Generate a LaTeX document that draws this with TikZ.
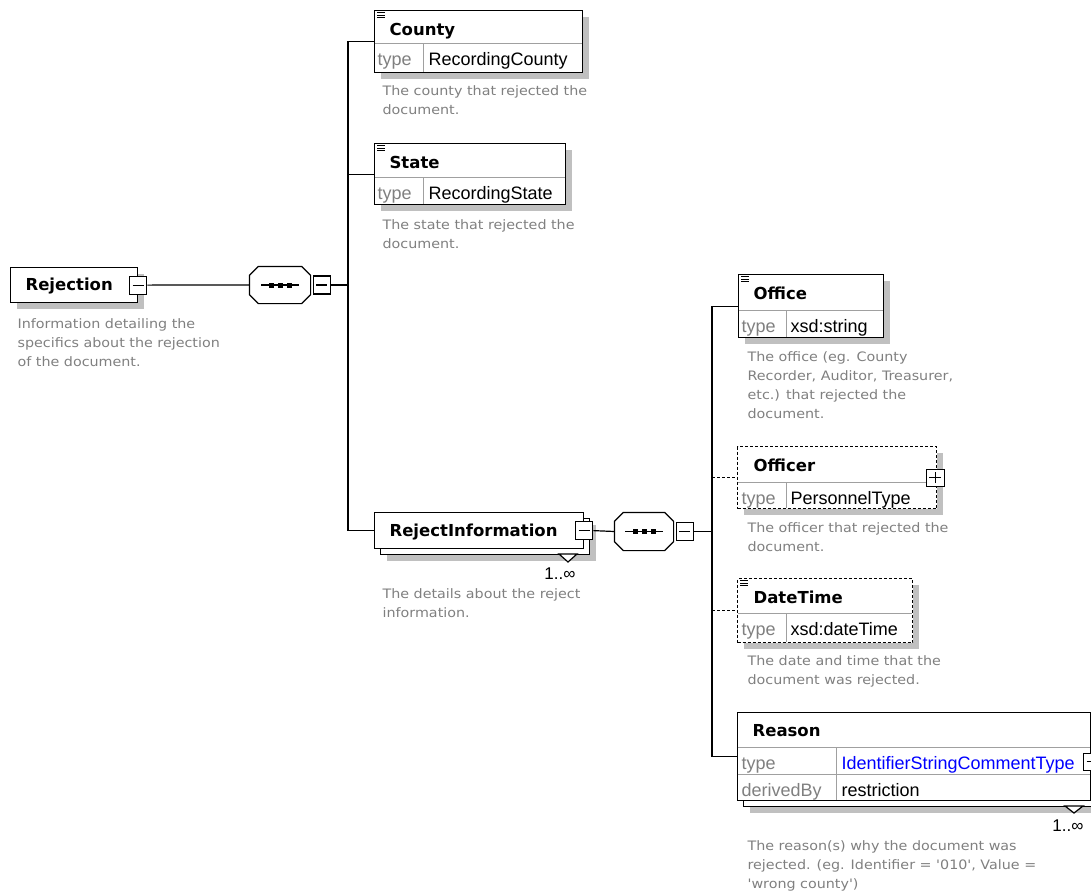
\documentclass[tikz,border=0pt]{standalone}
\usepackage{fontspec}
\setmainfont{DejaVu Sans}
\newfontfamily\descfont{DejaVu Sans}[FakeStretch=1.1]
\newfontfamily\valfont{Liberation Sans}
\definecolor{shadowgray}{RGB}{192,192,192}
\definecolor{desc}{RGB}{128,128,128}
\definecolor{divc}{RGB}{160,160,160}
\definecolor{linkblue}{RGB}{0,0,255}
\newcommand{\octa}[2]{\path[#2] ([xshift=9pt]#1.north west) -- ([xshift=-9pt]#1.north east) -- ([yshift=-9pt]#1.north east) -- ([yshift=9pt]#1.south east) -- ([xshift=-9pt]#1.south east) -- ([xshift=9pt]#1.south west) -- ([yshift=9pt]#1.south west) -- ([yshift=-9pt]#1.north west) -- cycle;}
\newcommand{\seqdots}[1]{\begin{scope}[shift={(#1.center)}]\draw[line width=1.2pt] (-19,0) -- (19,0);\foreach \d in {-9,0,9} {\fill (\d-2.5,-2.5) rectangle (\d+2.5,2.5);}\end{scope}}
\newcommand{\eqicon}[2]{\draw[line width=0.9pt] (#1,#2+2.5) -- ++(8,0) (#1,#2+5) -- ++(8,0) (#1,#2+7.5) -- ++(8,0);}
\begin{document}
\begin{tikzpicture}[x=1pt,y=-1pt,line width=1.2pt,
 elbox/.style={draw=black, fill=white, inner sep=0pt, anchor=north west},
 optbox/.style={elbox, dash pattern=on 3pt off 2pt},
 div/.style={draw=divc, line width=1pt},
 namet/.style={font=\bfseries\fontsize{16.5}{18}\selectfont, anchor=base west, inner sep=0pt},
 typet/.style={font=\valfont\fontsize{18}{20}\selectfont, text=desc, anchor=base west, inner sep=0pt},
 valt/.style={font=\valfont\fontsize{18}{20}\selectfont, anchor=base west, inner sep=0pt},
 desct/.style={font=\descfont\fontsize{13}{19}\selectfont, text=desc, align=left, anchor=north west, inner sep=0pt},
 mult/.style={font=\valfont\fontsize{17}{20}\selectfont, anchor=base east, inner sep=0pt},
 pmbox/.style={draw=black, fill=white, inner sep=0pt, minimum width=17pt, minimum height=18pt},
 minus/.style={pmbox, path picture={\draw[line width=1.2pt] ([xshift=3pt]path picture bounding box.west) -- ([xshift=-3pt]path picture bounding box.east);}},
 plus/.style={pmbox, path picture={\draw[line width=1.2pt] ([xshift=3pt]path picture bounding box.west) -- ([xshift=-3pt]path picture bounding box.east) ([yshift=3pt]path picture bounding box.south) -- ([yshift=-3pt]path picture bounding box.north);}},
 conn/.style={draw=black, line width=1.2pt},
 opt/.style={conn, dash pattern=on 3pt off 2pt},
 seqnode/.style={inner sep=0pt, minimum width=60pt, minimum height=36pt},
]
\useasboundingbox[fill=white] (0,0) rectangle (1091,894);

% ---------- shadows ----------
\fill[shadowgray] (17,274) rectangle (144,309);
\fill[shadowgray] (381,17) rectangle (589,79);
\fill[shadowgray] (381,150) rectangle (572,211);
\fill[shadowgray] (387,525) rectangle (596,561);
\fill[shadowgray] (745,281) rectangle (890,344);
\fill[shadowgray] (744,453) rectangle (943,515);
\fill[shadowgray] (744,585) rectangle (919,649);
\fill[shadowgray] (750,725) rectangle (1103,813);

% ---------- Rejection ----------
\node[elbox, minimum width=127pt, minimum height=35pt] (rejection) at (10,267) {};
\node[namet] at (25,290) {Rejection};
\node[desct] at (17,318) {Information detailing the\\specifics about the rejection\\of the document.};
\node[minus] (rejm) at (rejection.east) {};

% ---------- sequence 1 ----------
\node[seqnode] (seq1) at (280,285) {};
\begin{scope}[shift={(5,5)}]\octa{seq1}{fill=shadowgray}\end{scope}
\octa{seq1}{draw=black, fill=white, line width=1.2pt}
\seqdots{seq1}
\node[minus, anchor=west] (seq1m) at ([xshift=2pt]seq1.east) {};
\coordinate (t1) at (348,285);

% ---------- County ----------
\node[elbox, minimum width=208pt, minimum height=62pt] (county) at (374,10) {};
\draw[div] (374.5,43) -- (581.5,43);
\draw[div] (423,43.5) -- (423,71.5);
\eqicon{377}{10}
\node[namet] at (389,35) {County};
\node[typet] at (377,65) {type};
\node[valt] at (428,65) {RecordingCounty};
\node[desct] at (382,85) {The county that rejected the\\document.};

% ---------- State ----------
\node[elbox, minimum width=191pt, minimum height=61pt] (state) at (374,143) {};
\draw[div] (374.5,177) -- (564.5,177);
\draw[div] (423,177.5) -- (423,203.5);
\eqicon{377}{143}
\node[namet] at (389,168) {State};
\node[typet] at (377,199) {type};
\node[valt] at (428,199) {RecordingState};
\node[desct] at (382,219) {The state that rejected the\\document.};

% ---------- RejectInformation ----------
\node[elbox, minimum width=209pt, minimum height=36pt] (rejback) at (380,518) {};
\node[elbox, minimum width=209pt, minimum height=36pt] (rejinfo) at (374,512) {};
\node[namet] at (389,536) {RejectInformation};
\draw[fill=white] (559,554) -- (577,554) -- (568,562) -- cycle;
\node[minus] (rijm) at (rejinfo.east) {};
\node[mult] at (576,579) {1..∞};
\node[desct] at (382,588) {The details about the reject\\information.};

% ---------- sequence 2 ----------
\node[seqnode, minimum width=58pt, minimum height=37pt] (seq2) at (644,531.5) {};
\begin{scope}[shift={(5,5)}]\octa{seq2}{fill=shadowgray}\end{scope}
\octa{seq2}{draw=black, fill=white, line width=1.2pt}
\seqdots{seq2}
\node[minus, anchor=west] (seq2m) at ([xshift=2pt]seq2.east) {};
\coordinate (t2) at (712,531.5);

% ---------- Office ----------
\node[elbox, minimum width=145pt, minimum height=63pt] (office) at (738,274) {};
\draw[div] (738.5,310) -- (882.5,310);
\draw[div] (786,310.5) -- (786,336.5);
\eqicon{741}{274}
\node[namet] at (753,299) {Office};
\node[typet] at (741,332) {type};
\node[valt] at (790,332) {xsd:string};
\node[desct] at (747,351) {The office (eg. County\\Recorder, Auditor, Treasurer,\\etc.) that rejected the\\document.};

% ---------- Officer ----------
\node[optbox, minimum width=199pt, minimum height=62pt] (officer) at (737,446) {};
\draw[div] (737.5,482) -- (935.5,482);
\draw[div] (786,482.5) -- (786,507.5);
\node[namet] at (753,471) {Officer};
\node[typet] at (741,504) {type};
\node[valt] at (790,504) {PersonnelType};
\node[plus, minimum width=18pt, minimum height=17pt] (officerp) at ([xshift=-2pt]officer.east) {};
\node[desct] at (747,522) {The officer that rejected the\\document.};

% ---------- DateTime ----------
\node[optbox, minimum width=175pt, minimum height=64pt] (datetime) at (737,578) {};
\draw[div] (737.5,613) -- (911.5,613);
\draw[div] (786,613.5) -- (786,641.5);
\eqicon{740}{578}
\node[namet] at (753,603) {DateTime};
\node[typet] at (741,635) {type};
\node[valt] at (790,635) {xsd:dateTime};
\node[desct] at (747,655) {The date and time that the\\document was rejected.};

% ---------- Reason ----------
\node[elbox, minimum width=353pt, minimum height=88pt] (reasonback) at (743,718) {};
\node[elbox, minimum width=353pt, minimum height=88pt] (reason) at (737,712) {};
\draw[div] (737.5,747) -- (1089.5,747);
\draw[div] (737.5,774) -- (1089.5,774);
\draw[div] (836,747.5) -- (836,799.5);
\node[namet] at (752,736) {Reason};
\node[typet] at (741,769) {type};
\node[valt, text=linkblue] at (841,769) {IdentifierStringCommentType};
\node[typet] at (741,796) {derivedBy};
\node[valt] at (841,796) {restriction};
\node[plus, minimum width=17pt, minimum height=17pt] (reasonp) at ([xshift=1pt,yshift=-5pt]reason.east) {};
\draw[fill=white] (1065,806) -- (1083,806) -- (1074,813) -- cycle;
\node[mult] at (1084,831) {1..∞};
\node[desct] at (747,840) {The reason(s) why the document was\\rejected. (eg. Identifier = '010', Value =\\'wrong county')};

% ---------- connectors ----------
\draw[conn] (rejm.east) -- (seq1.west);
\draw[conn] (seq1m.east) -- (t1);
\draw[conn] (t1) |- (county.west);
\draw[conn] (t1) |- (state.west);
\draw[conn] (t1) |- (rejinfo.west);
\draw[conn] (rijm.east) -- (seq2.west);
\draw[conn] (seq2m.east) -- (t2);
\draw[conn] (t2) |- (office.west);
\draw[conn] (t2) |- (reason.west);
\draw[opt] (officer.west -| t2) -- (officer.west);
\draw[opt] (datetime.west -| t2) -- (datetime.west);
\end{tikzpicture}
\end{document}
